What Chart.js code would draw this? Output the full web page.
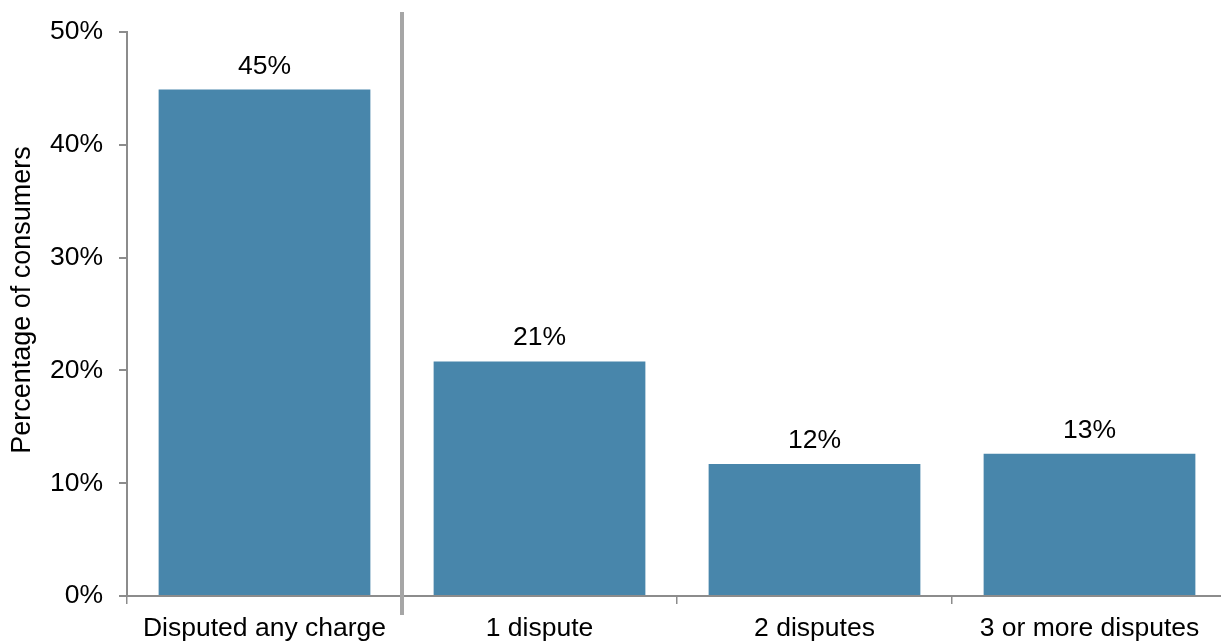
<!DOCTYPE html>
<html>
<head>
<meta charset="utf-8">
<title>Disputes</title>
<script src="https://cdn.jsdelivr.net/npm/chart.js@4/dist/chart.umd.min.js"></script>
<style>
  html, body { margin: 0; padding: 0; background: #fff; overflow: hidden; }
  #wrap { width: 1221px; height: 644px; overflow: hidden; }
</style>
</head>
<body>
<div id="wrap"><canvas id="myChart" width="1227" height="644"></canvas></div>
<script>
const categories = ["Disputed any charge", "1 dispute", "2 disputes", "3 or more disputes"];
const shares = [44.9, 20.8, 11.7, 12.6];
const yTicks = [0, 10, 20, 30, 40, 50];
const yTitle = "Percentage of consumers";

const FONT = "'Liberation Sans', Arial, sans-serif";
const AXIS = "#8c8c8c";

// value labels above each bar
const barLabels = {
	id: "barLabels",
	afterDatasetsDraw(chart) {
		const ctx = chart.ctx;
		const meta = chart.getDatasetMeta(0);
		ctx.save();
		ctx.font = "26.5px " + FONT;
		ctx.fillStyle = "#000";
		ctx.textAlign = "center";
		ctx.textBaseline = "bottom";
		meta.data.forEach((bar, i) => {
			ctx.fillText(Math.round(shares[i]) + "%", bar.x, bar.y - 10);
		});
		ctx.restore();
	}
};

// grey divider between the total and the per-count bars, plus the y title
const divider = {
	id: "divider",
	afterDraw(chart) {
		const ctx = chart.ctx;
		const x = chart.scales.x;
		const px = (x.getPixelForValue(0) + x.getPixelForValue(1)) / 2;
		ctx.save();
		ctx.strokeStyle = "#a6a6a6";
		ctx.lineWidth = 4;
		ctx.beginPath();
		ctx.moveTo(px, 12);
		ctx.lineTo(px, 615);
		ctx.stroke();

		ctx.translate(23, 300);
		ctx.rotate(-Math.PI / 2);
		ctx.font = "27px " + FONT;
		ctx.fillStyle = "#000";
		ctx.textAlign = "center";
		ctx.textBaseline = "middle";
		ctx.fillText(yTitle, 0, 0);
		ctx.restore();
	}
};

new Chart(document.getElementById("myChart"), {
	type: "bar",
	data: {
		labels: categories,
		datasets: [{
			data: shares,
			backgroundColor: "#4886ab",
			borderWidth: 0,
			categoryPercentage: 1,
			barPercentage: 0.77
		}]
	},
	options: {
		responsive: false,
		animation: false,
		layout: { padding: { top: 32, left: 0, right: 0, bottom: 0 } },
		plugins: { legend: { display: false }, tooltip: { enabled: false } },
		scales: {
			x: {
				offset: true,
				grid: { display: true, drawOnChartArea: false, drawTicks: true, tickLength: 8, offset: true, color: AXIS, lineWidth: 1.5 },
				border: { display: true, color: AXIS, width: 2 },
				ticks: { font: { family: FONT, size: 26.5 }, color: "#000", padding: 9, autoSkip: false, maxRotation: 0 },
				afterFit(scale) { scale.height = 48; }
			},
			y: {
				min: 0,
				max: 50,
				afterBuildTicks(scale) { scale.ticks = yTicks.map(v => ({ value: v })); },
				grid: { display: true, drawOnChartArea: false, drawTicks: true, tickLength: 8, color: AXIS, lineWidth: 2 },
				border: { display: true, color: AXIS, width: 2 },
				ticks: { font: { family: FONT, size: 26.5 }, color: "#000", padding: 16, callback: v => v + "%" },
				afterFit(scale) { scale.width = 127; }
			}
		}
	},
	plugins: [barLabels, divider]
});
</script>
</body>
</html>
